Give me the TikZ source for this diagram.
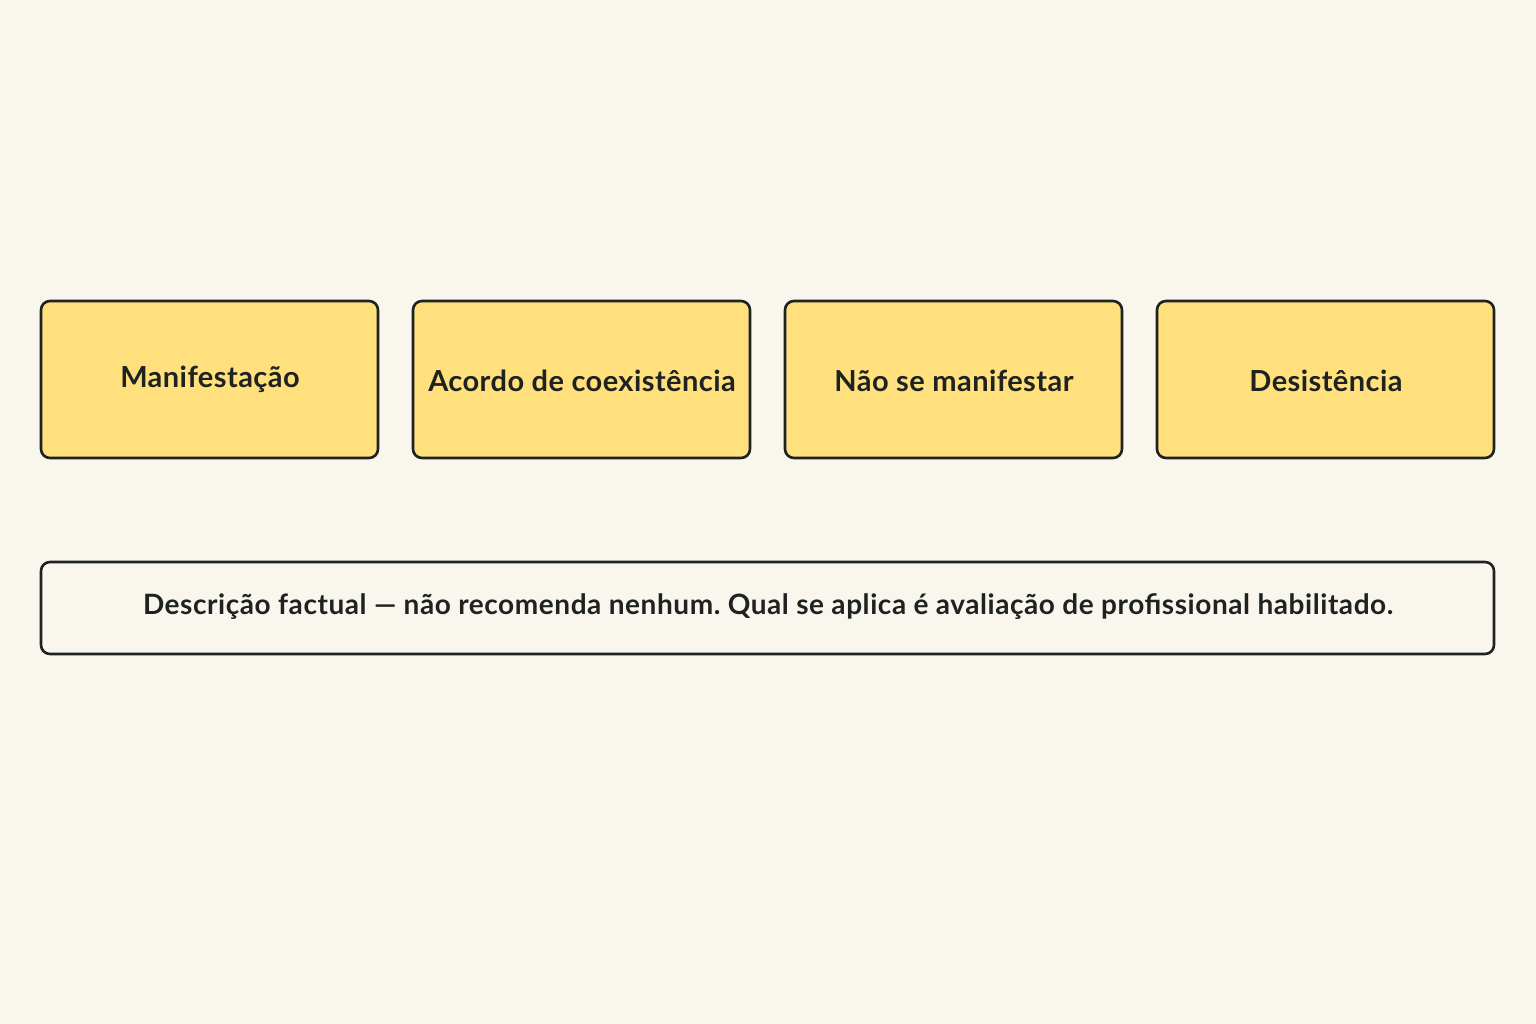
\documentclass[tikz,border=0pt]{standalone}
\usepackage{fontspec}
\setmainfont{Lato}[UprightFont=* Bold]
\newfontfamily\cardfont{Lato}[UprightFont=* Bold,LetterSpace=1.5]
\newfontfamily\notefont{Lato}[UprightFont=* Bold,LetterSpace=2]
\definecolor{bgc}{HTML}{F9F6EE}
\definecolor{boxy}{HTML}{FFE07D}
\definecolor{ink}{HTML}{1E2220}
\frenchspacing
\begin{document}
\begin{tikzpicture}[x=1pt,y=-1pt,
  card/.style={draw=ink,line width=2.6pt,rounded corners=9pt,fill=boxy},
  note/.style={draw=ink,line width=2.6pt,rounded corners=9pt,fill=bgc},
  lbl/.style={text=ink,font=\cardfont\fontsize{29}{33}\selectfont},
  nlbl/.style={text=ink,font=\notefont\fontsize{28}{32}\selectfont\frenchspacing}]
\fill[bgc] (0,0) rectangle (1536,1024);
\useasboundingbox (0,0) rectangle (1536,1024);
\draw[card] (41,301) rectangle (378,458);
\draw[card] (413,301) rectangle (750,458);
\draw[card] (785,301) rectangle (1122,458);
\draw[card] (1157,301) rectangle (1494,458);
\draw[note] (41,562) rectangle (1494,654);
\node[lbl] (a) at (210,379) {Manifestação};
\node[lbl] (b) at (582,381) {Acordo de coexistência};
\node[lbl] (c) at (954,381) {Não se manifestar};
\node[lbl] (d) at (1326,381) {Desistência};
\node[nlbl] (e) at (768,607) {Descrição factual — não recomenda nenhum. Qual se aplica é avaliação de profissional habilitado.};
\end{tikzpicture}
\end{document}
